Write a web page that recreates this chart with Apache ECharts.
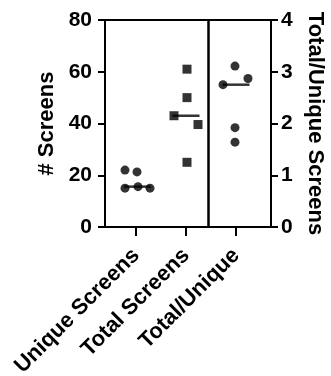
<!DOCTYPE html>
<html>
	<head>
		<meta charset="UTF-8">
		<title></title>
		<script src="https://cdn.jsdelivr.net/npm/echarts@6/dist/echarts.min.js"></script>
		<style type="text/css">
			html, body{
				margin: 0;
				padding: 0;
				background: #fff;
			}
			#chart{
				width: 331px;
				height: 376px;
			}
		</style>
	</head>
	<body>
		<div id="chart"></div>
		<script>
		// groups on the x axis
		var categories = ['Unique Screens', 'Total Screens', 'Total/Unique'];
		// values (left axis: # screens, right axis: ratio)
		var uniqueScreens = [22, 21.3, 15, 15.6, 15];
		var totalScreens = [61, 50, 43, 39.6, 25];
		var totalPerUnique = [3.11, 2.87, 2.75, 1.92, 1.64];
		// horizontal spread of the dots inside each group (in category units)
		var uniqueJitter = [-0.22, 0.02, -0.22, 0.04, 0.28];
		var totalJitter = [0.02, 0.02, -0.24, 0.24, 0.02];
		var ratioJitter = [-0.02, 0.24, -0.26, -0.02, -0.02];
		var dividerAt = 1.44;

		var font = '"Liberation Sans", Arial, sans-serif';

		function median(arr){
			var s = arr.slice().sort(function(a, b){ return a - b; });
			return s[Math.floor(s.length / 2)];
		}
		function points(vals, jit, idx){
			var out = [];
			for (var i = 0; i < vals.length; i++) {
				out.push([idx + jit[i], vals[i]]);
			}
			return out;
		}

		var myChart = echarts.init(document.getElementById('chart'));
		var option = {
			animation: false,
			textStyle: { fontFamily: font },
			grid: {
				left: 105,
				right: 60,
				top: 20,
				bottom: 149,
				outerBoundsMode: 'none',
				containLabel: false,
				show: true,
				borderColor: '#000',
				borderWidth: 2
			},
			xAxis: {
				type: 'value',
				min: -0.62,
				max: 2.7,
				splitLine: { show: false },
				axisLine: { show: true, onZero: false, lineStyle: { color: '#000', width: 2 } },
				axisTick: { show: true, customValues: [0, 1, 2], length: 9, lineStyle: { color: '#000', width: 2 } },
				axisLabel: {
					customValues: [0, 1, 2],
					rotate: 45,
					margin: 25,
					color: '#000',
					fontWeight: 'bold',
					fontSize: 22,
					fontFamily: font,
					formatter: function (v){ return categories[Math.round(v)]; }
				}
			},
			yAxis: [
				{
					type: 'value',
					min: 0,
					max: 80,
					interval: 20,
					name: '# Screens',
					nameLocation: 'middle',
					nameGap: 45,
					nameTextStyle: { color: '#000', fontWeight: 'bold', fontSize: 22, fontFamily: font },
					splitLine: { show: false },
					axisLine: { show: true, onZero: false, lineStyle: { color: '#000', width: 2 } },
					axisTick: { show: true, length: 7, lineStyle: { color: '#000', width: 2 } },
					axisLabel: { margin: 13, color: '#000', fontWeight: 'bold', fontSize: 21, fontFamily: font }
				},
				{
					type: 'value',
					min: 0,
					max: 4,
					interval: 1,
					position: 'right',
					name: 'Total/Unique Screens',
					nameLocation: 'middle',
					nameRotate: -90,
					nameGap: 29,
					nameTextStyle: { color: '#000', fontWeight: 'bold', fontSize: 22, fontFamily: font },
					splitLine: { show: false },
					axisLine: { show: true, onZero: false, lineStyle: { color: '#000', width: 2 } },
					axisTick: { show: true, length: 7, lineStyle: { color: '#000', width: 2 } },
					axisLabel: { margin: 10, color: '#000', fontWeight: 'bold', fontSize: 21, fontFamily: font }
				}
			],
			series: [
				{
					name: 'Unique Screens',
					type: 'scatter',
					symbol: 'circle',
					symbolSize: 9,
					itemStyle: { color: '#000' },
					data: points(uniqueScreens, uniqueJitter, 0),
					markLine: {
						silent: true,
						symbol: 'none',
						label: { show: false },
						lineStyle: { color: '#000', width: 2.5, type: 'solid' },
						data: [{ xAxis: dividerAt }]
					}
				},
				{
					name: 'Total Screens',
					type: 'scatter',
					symbol: 'rect',
					symbolSize: 9,
					itemStyle: { color: '#000' },
					data: points(totalScreens, totalJitter, 1)
				},
				{
					name: 'Total/Unique',
					type: 'scatter',
					yAxisIndex: 1,
					symbol: 'circle',
					symbolSize: 9,
					itemStyle: { color: '#000' },
					data: points(totalPerUnique, ratioJitter, 2)
				},
				{
					// median bars
					type: 'scatter',
					symbol: 'rect',
					symbolSize: [27, 2.5],
					itemStyle: { color: '#000' },
					data: [[0.03, median(uniqueScreens)], [1, median(totalScreens)]]
				},
				{
					type: 'scatter',
					yAxisIndex: 1,
					symbol: 'rect',
					symbolSize: [27, 2.5],
					itemStyle: { color: '#000' },
					data: [[2, median(totalPerUnique)]]
				}
			]
		};
		myChart.setOption(option);
		</script>
	</body>
</html>
